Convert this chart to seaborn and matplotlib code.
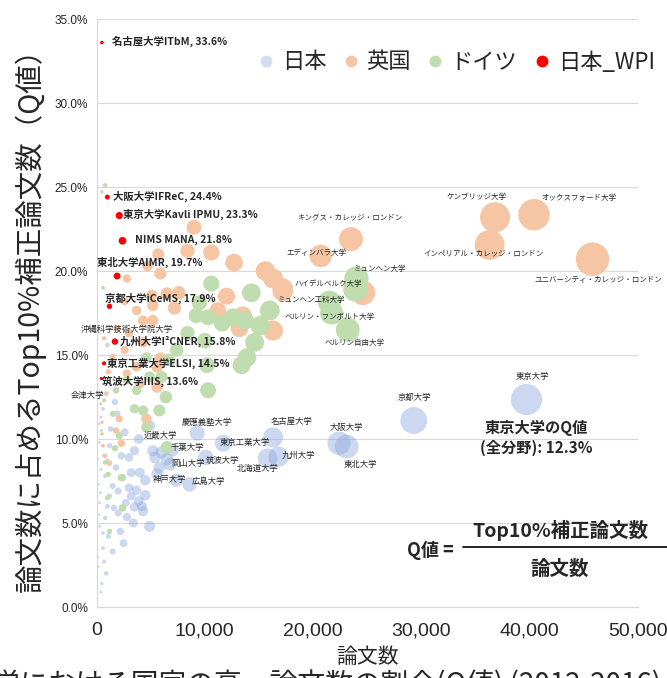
import matplotlib
matplotlib.use("Agg")
import matplotlib.pyplot as plt
from matplotlib import font_manager
from matplotlib.lines import Line2D
from matplotlib.ticker import FuncFormatter
import seaborn as sns
import pandas as pd

# ---------------- data ----------------
# 日本 (labelled)
jp_names = ["東京大学", "京都大学", "大阪大学", "東北大学", "名古屋大学", "九州大学",
            "北海道大学", "東京工業大学", "慶應義塾大学", "筑波大学", "千葉大学",
            "岡山大学", "神戸大学", "広島大学", "近畿大学", "会津大学", "沖縄科学技術大学院大学"]
jp_named_x = [39700, 29300, 22400, 23100, 16300, 16800, 15800, 11700, 9300, 10100, 7000,
              6800, 7400, 8600, 3900, 500, 1000]
jp_named_y = [12.35, 11.1, 9.75, 9.55, 10.1, 8.95, 8.85, 9.75, 10.35, 8.9, 9.35,
              8.5, 7.55, 7.3, 10.0, 12.7, 15.6]
# 日本 (other universities)
jp_x = [5200, 5400, 4900, 3000, 4000, 3200, 4500, 3700, 4500, 3200, 3500, 2700, 2800, 2000,
        4900, 1600, 1000, 600, 600, 900, 500, 400, 3500, 2300, 6000, 6500, 5800, 2400, 1800,
        1500, 1200, 800, 700, 2600, 1300, 1900, 3400, 2200, 1100, 800, 300, 200, 400, 300,
        1500, 700, 4200, 5600, 1200, 2500, 300, 450, 600, 200, 1700, 3000, 3900, 4300,
        150, 250, 350, 150, 250, 400, 1000, 2000]
jp_y = [9.3, 8.9, 10.8, 8.9, 8.0, 8.0, 7.55, 6.95, 6.65, 6.6, 5.95, 6.2, 5.35, 5.6,
        4.8, 5.9, 6.0, 4.4, 3.5, 2.0, 1.4, 0.9, 9.3, 9.0, 9.2, 8.8, 8.3, 7.7, 8.3,
        7.2, 6.6, 7.8, 9.0, 10.4, 10.6, 11.5, 5.0, 4.5, 4.2, 5.3, 6.2, 7.3, 8.2, 9.8,
        3.3, 2.7, 6.0, 7.9, 9.6, 3.8, 4.8, 10.5, 11.8, 2.4, 12.2, 7.1, 6.3, 5.7,
        3.0, 5.5, 6.8, 8.8, 10.9, 11.3, 8.7, 6.9]

# 英国 (labelled)
uk_names = ["ケンブリッジ大学", "オックスフォード大学", "インペリアル・カレッジ・ロンドン",
            "ユニバーシティ・カレッジ・ロンドン", "キングス・カレッジ・ロンドン", "エディンバラ大学"]
uk_named_x = [36800, 40400, 36300, 45800, 23500, 20700]
uk_named_y = [23.2, 23.35, 21.55, 20.7, 21.9, 20.9]
uk_x = [24600, 17200, 9000, 8400, 10600, 5700, 12700, 15600, 16300, 17200, 12000, 6500,
        7600, 5100, 5200, 7200, 11200, 13500, 13200, 16300, 5200, 4300, 3700, 2600, 5900,
        4700, 2800, 1900, 3000, 2600, 4300, 5900, 5600, 3700, 2800, 4000, 5600, 4600, 2100,
        2300, 1200, 500, 500, 600, 400, 900, 1100, 1500, 700, 800, 1800]
uk_y = [18.7, 18.8, 22.6, 21.2, 21.1, 21.0, 20.5, 20.0, 19.55, 18.95, 18.5, 18.65,
        18.7, 18.55, 17.95, 17.8, 17.65, 17.35, 16.6, 16.45, 17.05, 17.05, 17.65, 18.2, 19.85,
        20.3, 19.55, 16.6, 16.3, 15.3, 15.75, 14.8, 14.3, 14.3, 13.9, 13.3, 13.1, 11.2, 11.2,
        9.75, 8.55, 11.0, 10.3, 9.6, 12.1, 12.7, 14.0, 14.9, 16.0, 9.0, 10.5]

# ドイツ (labelled)
de_names = ["ミュンヘン大学", "ハイデルベルク大学", "ミュンヘン工科大学",
            "ベルリン・フンボルト大学", "ベルリン自由大学"]
de_named_x = [24000, 23900, 21500, 21700, 23200]
de_named_y = [19.55, 18.9, 18.15, 17.5, 16.5]
de_x = [10600, 14300, 16000, 15100, 14600, 13900, 13400, 11600, 10300, 9200, 9500, 12600,
        13700, 8400, 10000, 10200, 10300, 7400, 6700, 6000, 6400, 5800, 4600, 4900, 3700,
        2800, 4300, 1800, 1500, 700, 6500, 4600, 3500, 2100, 2300, 2400, 1000, 1200, 1700,
        800, 1100, 800, 500, 600]
de_y = [19.25, 18.7, 17.65, 16.75, 15.75, 14.85, 14.4, 16.9, 17.25, 17.35, 18.1, 17.25,
        17.05, 16.3, 15.85, 14.4, 12.9, 15.3, 14.7, 13.7, 12.5, 11.7, 14.85, 13.7, 12.9,
        13.5, 11.7, 12.9, 11.5, 12.3, 9.5, 10.7, 11.8, 10.2, 7.7, 5.9, 6.5, 4.5, 9.45,
        8.6, 7.9, 25.1, 24.7, 19.0]

# 日本_WPI
wpi_names = ["名古屋大学ITbM", "大阪大学IFReC", "東京大学Kavli IPMU", "NIMS MANA", "東北大学AIMR",
             "京都大学iCeMS", "九州大学I²CNER", "東京工業大学ELSI", "筑波大学IIIS"]
wpi_x = [500, 1000, 2100, 2400, 1900, 1200, 1700, 700, 450]
wpi_y = [33.6, 24.4, 23.3, 21.8, 19.7, 17.9, 15.8, 14.5, 13.6]

legend_labels = ["日本", "英国", "ドイツ", "日本_WPI"]
x_ticks = [0, 10000, 20000, 30000, 40000, 50000]
y_ticks = [0, 5, 10, 15, 20, 25, 30, 35]

# ---------------- style ----------------
sns.set_style("white")
plt.rcParams["font.family"] = ["Noto Sans CJK JP", "DejaVu Sans"]
avail = {f.name for f in font_manager.fontManager.ttflist}
narrow = "Liberation Sans Narrow" if "Liberation Sans Narrow" in avail else "Liberation Sans"

W, H = 667, 678
fig = plt.figure(figsize=(W / 100, H / 100), dpi=100)
L, R, T, B = 96.5, 638, 19, 607
ax = fig.add_axes([L / W, 1 - B / H, (R - L) / W, (B - T) / H])


def fx(px):
    return px / W


def fy(py):
    return 1 - py / H


c_jp, c_uk, c_de, c_wpi = "#8FAADC", "#F6C5A4", "#BFDDAE", "#FF0000"
SMAX = 586
NORM = (0, 46200)

df_jp = pd.DataFrame({"x": jp_named_x + jp_x, "y": jp_named_y + jp_y})
df_uk = pd.DataFrame({"x": uk_named_x + uk_x, "y": uk_named_y + uk_y})
df_de = pd.DataFrame({"x": de_named_x + de_x, "y": de_named_y + de_y})
df_wpi = pd.DataFrame({"x": wpi_x, "y": wpi_y})

for d, c, a in [(df_jp, c_jp, 0.45), (df_uk, c_uk, 1.0), (df_de, c_de, 1.0), (df_wpi, c_wpi, 1.0)]:
    d = d.sort_values("x", ascending=False)
    sns.scatterplot(data=d, x="x", y="y", size="x", sizes=(0, SMAX), size_norm=NORM,
                    color=c, alpha=a, linewidth=0, legend=False, ax=ax, zorder=3)

ax.set_xlim(0, 50000)
ax.set_ylim(0, 35)
ax.set_xticks(x_ticks)
ax.set_yticks(y_ticks)
ax.xaxis.set_major_formatter(FuncFormatter(lambda v, p: f"{int(v):,}"))
ax.yaxis.set_major_formatter(FuncFormatter(lambda v, p: f"{v:.1f}%"))
for t in ax.get_xticklabels():
    t.set_fontfamily(narrow)
    t.set_fontsize(14)
for t in ax.get_yticklabels():
    t.set_fontfamily("Liberation Sans")
    t.set_fontsize(8.5)
ax.tick_params(axis="x", length=0, pad=11)
ax.tick_params(axis="y", length=0, pad=6)
ax.grid(axis="y", color="#D9D9D9", linewidth=0.8, zorder=0)
ax.grid(axis="x", visible=False)
for s in ["top", "right"]:
    ax.spines[s].set_visible(False)
for s in ["left", "bottom"]:
    ax.spines[s].set_color("#D9D9D9")
    ax.spines[s].set_linewidth(0.9)

ax.set_xlabel("論文数", fontsize=15)
ax.xaxis.set_label_coords(0.5, -(657 - B) / (B - T))
ax.xaxis.label.set_va("center")
ax.set_ylabel("論文数に占めるTop10%補正論文数（Q値）", fontsize=20.5)
ax.yaxis.set_label_coords((30 - L) / (R - L), 0.5)
ax.yaxis.label.set_va("center")

# ---------------- labels ----------------
jp_lab = {"東京大学": (40200, 13.7), "京都大学": (29400, 12.45),
          "名古屋大学": (18050, 11.07), "大阪大学": (23100, 10.7),
          "九州大学": (18600, 9.05), "東北大学": (24350, 8.5),
          "北海道大学": (14900, 8.27), "東京工業大学": (13700, 9.77),
          "慶應義塾大学": (10200, 11.0), "近畿大学": (5860, 10.24),
          "千葉大学": (8350, 9.52), "岡山大学": (8450, 8.57),
          "筑波大学": (11600, 8.7), "神戸大学": (6780, 7.56),
          "広島大学": (10300, 7.5), "会津大学": (-800, 12.6),
          "沖縄科学技術大学院大学": (2800, 16.5)}
uk_lab = {"ケンブリッジ大学": (35100, 24.4), "オックスフォード大学": (44500, 24.35),
          "キングス・カレッジ・ロンドン": (23400, 23.15), "エディンバラ大学": (20300, 21.1),
          "インペリアル・カレッジ・ロンドン": (35700, 21.07),
          "ユニバーシティ・カレッジ・ロンドン": (46300, 19.46)}
de_lab = {"ミュンヘン大学": (26200, 20.1), "ハイデルベルク大学": (21400, 19.2),
          "ミュンヘン工科大学": (19900, 18.27), "ベルリン・フンボルト大学": (21550, 17.26),
          "ベルリン自由大学": (23800, 15.7)}
for n, (x, y) in jp_lab.items():
    ax.text(x, y, n, fontsize=6, ha="center", va="center", zorder=6, clip_on=False)
for n, (x, y) in list(uk_lab.items()) + list(de_lab.items()):
    ax.text(x, y, n, fontsize=5.4, ha="center", va="center", zorder=6, clip_on=False)

wpi_lab_pos = [(1430, 33.7), (1520, 24.46), (2450, 23.4), (3550, 21.85), (50, 20.5),
               (780, 18.4), (2170, 15.83), (970, 14.5), (500, 13.45)]
for n, v, (x, y) in zip(wpi_names, wpi_y, wpi_lab_pos):
    ax.text(x, y, f"{n}, {v}%", fontsize=7.5, fontweight="bold", ha="left", va="center",
            zorder=7)

ax.text(40650, 10.06, "東京大学のQ値\n(全分野): 12.3%", fontsize=11, fontweight="bold",
        ha="center", va="center", linespacing=1.3, zorder=7)

# formula
fig.text(fx(430), fy(550), "Q値 =", fontsize=13, fontweight="bold", ha="center", va="center")
fig.text(fx(560), fy(530), "Top10%補正論文数", fontsize=14, fontweight="bold",
         ha="center", va="center")
fig.text(fx(560), fy(569), "論文数", fontsize=14, fontweight="bold", ha="center", va="center")
fig.add_artist(Line2D([fx(463), 1.0], [fy(547), fy(547)], color="black", linewidth=1.2))

# legend
handles = [Line2D([], [], marker="o", linestyle="", markersize=8.5, markeredgewidth=0,
                  markerfacecolor=c) for c in ["#D3DEF1", c_uk, c_de, c_wpi]]
fig.legend(handles, legend_labels, loc="center", bbox_to_anchor=(fx(456), fy(62)),
           ncol=4, frameon=False, fontsize=16, handlelength=0.8, handletextpad=0.3,
           columnspacing=0.7)

# cropped caption at the bottom edge
fig.text(fx(-8), fy(670), "学における国家の高・論文数の割合(Q値) (2012-2016)", fontsize=20,
         ha="left", va="top")

fig.savefig("out.png", dpi=100)
